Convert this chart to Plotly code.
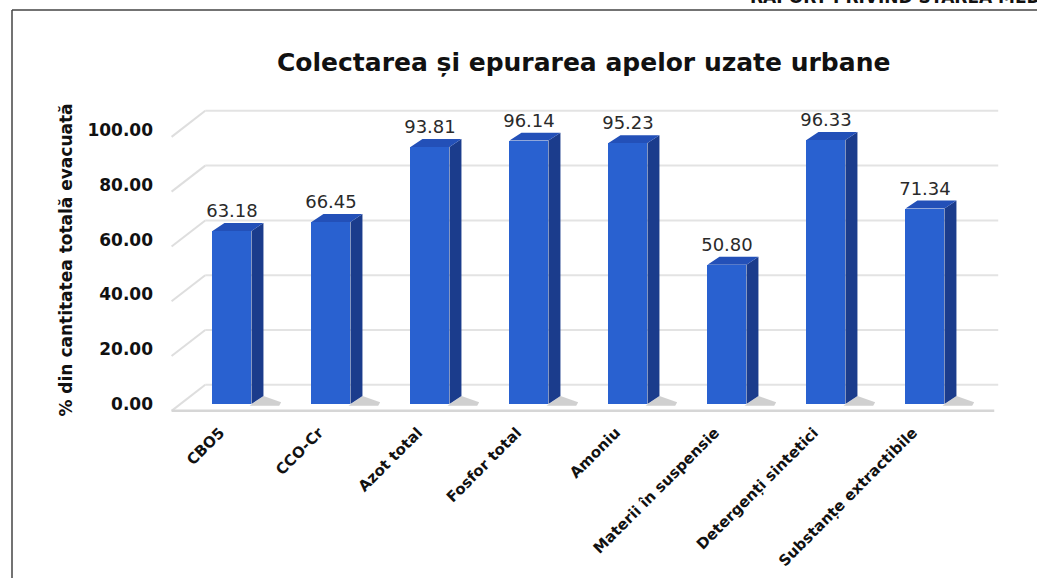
import plotly.graph_objects as go

categories = ["CBO5", "CCO-Cr", "Azot total", "Fosfor total", "Amoniu",
              "Materii în suspensie", "Detergenți sintetici", "Substanțe extractibile"]
values = [63.18, 66.45, 93.81, 96.14, 95.23, 50.80, 96.33, 71.34]
y_ticks = [0, 20, 40, 60, 80, 100]

title_text = "Colectarea și epurarea apelor uzate urbane"
y_title = "% din cantitatea totală evacuată"
header_text = "RAPORT PRIVIND STAREA MEDIULUI ÎN ANUL 2019"

FONT = "DejaVu Sans, Liberation Sans, Arial, sans-serif"
FRONT = "#2961d0"
SIDE = "#1b3c8c"
TOP = "#2350b8"

bw = 0.394      # bar front width (category units)
dx = 0.121      # depth offset in x
dy = 2.9        # depth offset in y

idx = list(range(len(categories)))

fig = go.Figure()

sx, sy, tx, ty = [], [], [], []
for i, v in zip(idx, values):
    x0, x1 = i - bw / 2, i + bw / 2
    sx += [x1, x1 + dx, x1 + dx, x1, x1, None]
    sy += [0, dy, v + dy, v, 0, None]
    tx += [x0, x1, x1 + dx, x0 + dx, x0, None]
    ty += [v, v, v + dy, v + dy, v, None]

shx, shy = [], []
for i, v in zip(idx, values):
    x1 = i + bw / 2
    shx += [x1 - 0.02, x1 + 0.28, x1 + 0.3, x1 + dx, x1 - 0.02, None]
    shy += [-0.6, -0.6, 0.6, dy, -0.6, None]
fig.add_trace(go.Scatter(x=shx, y=shy, fill="toself", mode="lines",
                         line=dict(width=0), fillcolor="rgba(120,120,120,0.35)",
                         hoverinfo="skip", showlegend=False))

fig.add_trace(go.Scatter(x=sx, y=sy, fill="toself", mode="lines",
                         line=dict(width=0), fillcolor=SIDE,
                         hoverinfo="skip", showlegend=False))
fig.add_trace(go.Scatter(x=tx, y=ty, fill="toself", mode="lines",
                         line=dict(width=0), fillcolor=TOP,
                         hoverinfo="skip", showlegend=False))

fig.add_trace(go.Bar(x=idx, y=values, width=bw,
                     marker=dict(color=FRONT, line=dict(width=0)),
                     showlegend=False))

fig.add_trace(go.Scatter(x=idx, y=[v + 6.6 for v in values], mode="text",
                         text=[f"{v:.2f}" for v in values],
                         textposition="middle center",
                         textfont=dict(family=FONT, size=18, color="#2a2a2a"),
                         hoverinfo="skip", showlegend=False))

shapes = []
for t in y_ticks:
    front = t - 2.5
    back = t + 7.0
    shapes.append(dict(type="line", xref="x", yref="y", x0=-0.61, y0=front,
                       x1=-0.27, y1=back, line=dict(color="#dedede", width=2), layer="below"))
    shapes.append(dict(type="line", xref="x", yref="y", x0=-0.27, y0=back,
                       x1=7.74, y1=back, line=dict(color="#e3e3e3", width=2), layer="below"))
shapes.append(dict(type="line", xref="x", yref="y", x0=-0.61, y0=-2.5,
                   x1=7.7, y1=-2.5, line=dict(color="#d6d6d6", width=2.5), layer="below"))

L, R, T, B = 170, 1000, 100, 420
W, H = 1037, 578
def px_x(p):
    return (p - L) / (R - L)
def px_y(p):
    return (B - p) / (B - T)

shapes.append(dict(type="line", xref="paper", yref="paper",
                   x0=px_x(12), y0=px_y(600), x1=px_x(12), y1=px_y(10),
                   line=dict(color="#444444", width=1.5)))
shapes.append(dict(type="line", xref="paper", yref="paper",
                   x0=px_x(12), y0=px_y(10), x1=px_x(1060), y1=px_y(10),
                   line=dict(color="#444444", width=1.5)))

fig.update_layout(
    width=W, height=H,
    margin=dict(l=L, r=W - R, t=T, b=H - B, autoexpand=False),
    paper_bgcolor="white", plot_bgcolor="white",
    shapes=shapes,
    bargap=0,
    xaxis=dict(range=[-0.626, 7.758], tickmode="array", tickvals=idx,
               ticktext=categories, tickangle=-45, showgrid=False,
               zeroline=False, showline=False, automargin=False,
               ticklabelshift=-12,
               tickfont=dict(family=FONT, size=15, color="#111111", weight="bold")),
    yaxis=dict(range=[-5.84, 110.95], tickmode="array", tickvals=y_ticks,
               tickformat=".2f", showgrid=False, zeroline=False, showline=False,
               ticklabelstandoff=16, automargin=False,
               tickfont=dict(family=FONT, size=17, color="#111111", weight="bold"),
               title=dict(text=y_title, standoff=10,
                          font=dict(family=FONT, size=17, color="#111111", weight="bold"))),
    annotations=[
        dict(text=title_text, xref="paper", yref="paper",
             x=px_x(583), y=px_y(62),
             xanchor="center", yanchor="middle", showarrow=False,
             font=dict(family=FONT, size=25, color="#111111", weight="bold")),
        dict(text=header_text, xref="paper", yref="paper",
             x=px_x(748), y=px_y(9),
             xanchor="left", yanchor="bottom", showarrow=False,
             font=dict(family=FONT, size=17, color="#111111", weight="bold")),
    ],
)

fig.write_html("out.html", config={"displayModeBar": False},
               post_script="document.body.style.margin='0px';document.body.style.overflow='hidden';")
